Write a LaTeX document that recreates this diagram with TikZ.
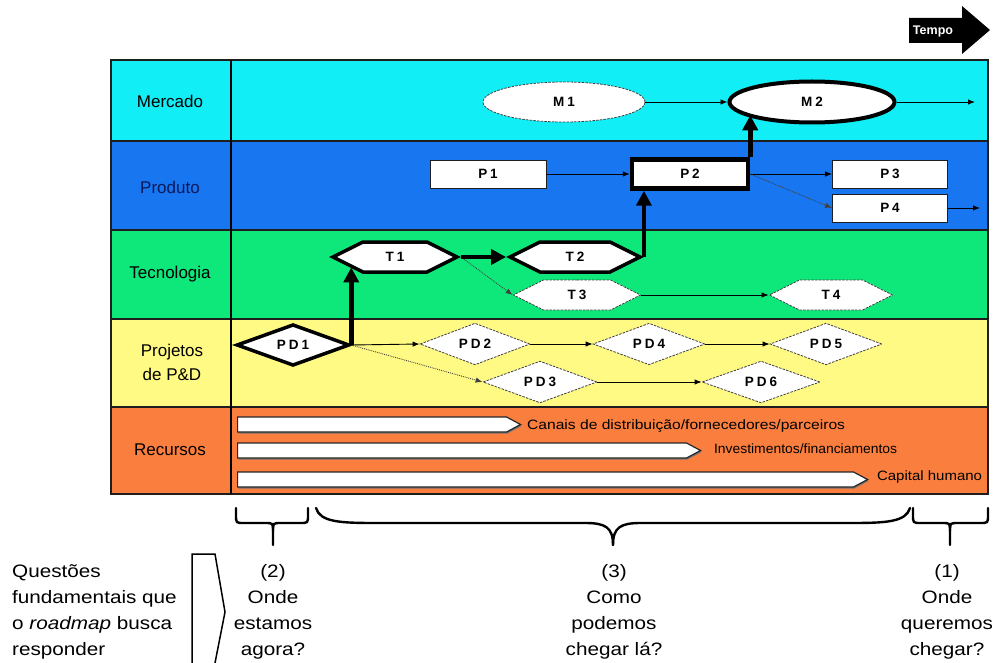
\documentclass[tikz,border=0pt]{standalone}
\usepackage{fontspec}
\usepackage{graphicx}
\setmainfont{Liberation Sans}
\newfontfamily\tagfont[LetterSpace=22]{Liberation Sans}
\newfontfamily\widefont[FakeStretch=1.15]{Liberation Sans}
\usetikzlibrary{shapes.geometric,shapes.symbols,arrows.meta,shadows,calc}

\definecolor{mercado}{RGB}{18,238,246}
\definecolor{produto}{RGB}{24,118,240}
\definecolor{tecno}{RGB}{14,232,122}
\definecolor{projeto}{RGB}{255,250,132}
\definecolor{recurso}{RGB}{250,126,62}
\definecolor{navy}{RGB}{10,25,90}
\definecolor{gridline}{RGB}{30,30,30}

% stretch a text to a given width, keeping its height
\newcommand\fitto[2]{\resizebox{#1}{\height}{#2}}

\begin{document}
\begin{tikzpicture}[x=1pt,y=-1pt,
  lane/.style={font=\fontsize{17}{24}\selectfont, inner sep=0},
  evt/.style={draw=black!75, line width=0.8pt, dash pattern=on 2.5pt off 1.2pt,
    fill=white, font=\tagfont\bfseries\fontsize{13.5}{14}\selectfont, inner sep=0},
  plainevt/.style={evt, solid, draw=gridline},
  keyevt/.style={draw=black, line width=4pt, fill=white,
    font=\tagfont\bfseries\fontsize{13.5}{14}\selectfont, inner sep=0},
  mkt/.style={ellipse},
  prod/.style={rectangle},
  tech/.style={signal, signal to=east and west, signal pointer angle=53.13},
  proj/.style={diamond},
  link/.style={-{Latex[length=7pt,width=5.5pt]}, line width=0.9pt},
  weak link/.style={link, densely dotted, draw=black!75},
  main link/.style={-{Triangle[length=15pt,width=15pt]}, line width=4.5pt},
  resbar/.style={signal, signal to=east, signal pointer angle=56,
    fill=white, draw=black!85, line width=1.2pt, minimum height=15, inner sep=0,
    drop shadow={shadow xshift=1pt, shadow yshift=-1.5pt, fill=black!55, opacity=1}},
  restext/.style={font=\fontsize{13.5}{14}\selectfont, inner sep=0, anchor=west},
  qtext/.style={font=\widefont\fontsize{18}{26}\selectfont, inner sep=0},
  brace line/.style={line width=2.4pt, line cap=round, line join=round}
]
\useasboundingbox (0,0) rectangle (1001,663);
\fill[white] (0,0) rectangle (1001,663);

% lanes of the roadmap
\fill[mercado] (111,60) rectangle (988,141);
\fill[produto] (111,141) rectangle (988,230);
\fill[tecno] (111,230) rectangle (988,319);
\fill[projeto] (111,319) rectangle (988,407);
\fill[recurso] (111,407) rectangle (988,494);
\foreach \y in {141,230,319,407}
  \draw[gridline, line width=1.5pt] (111,\y) -- (988,\y);
\draw[gridline, line width=1.5pt] (111,60) rectangle (988,494);
\draw[black, line width=1.8pt] (231,60) -- (231,494);

% lane titles
\node[lane] (lm) at (170,101) {Mercado};
\node[lane, text=navy] (lp) at (170,187) {Produto};
\node[lane] (lt) at (170,274) {Tecnologia};
\node[lane, align=center] (lpd) at (172,362) {Projetos\\de P\&D};
\node[lane] (lrs) at (170,450) {Recursos};

% time arrow
\fill[black] (909,18) -- (962,18) -- (962,6) -- (990,30) -- (962,54) -- (962,43) -- (909,43) -- cycle;
\node[font=\bfseries\fontsize{12.5}{13}\selectfont, text=white, inner sep=0] (tempo) at (933,31) {Tempo};

% market
\node[evt, mkt, minimum width=162, minimum height=40] (M1) at (564,102) {M1};
\node[keyevt, mkt, minimum width=165, minimum height=41] (M2) at (812,102) {M2};
\coordinate (mout) at (975,102);

% product
\node[plainevt, prod, minimum width=116, minimum height=28] (P1) at (488,174) {P1};
\node[keyevt, prod, line width=4.5pt, minimum width=116, minimum height=29] (P2) at (690,174) {P2};
\node[plainevt, prod, minimum width=115, minimum height=28] (P3) at (890,174) {P3};
\node[plainevt, prod, minimum width=115, minimum height=28] (P4) at (890,208) {P4};
\coordinate (pout) at (980,208);

% technology
\node[keyevt, tech, line width=3.5pt, minimum width=124, minimum height=30] (T1) at (395,257) {T1};
\node[keyevt, tech, line width=3.5pt, minimum width=130, minimum height=30] (T2) at (575,257) {T2};
\node[evt, tech, minimum width=127, minimum height=30] (T3) at (577,295) {T3};
\node[evt, tech, minimum width=123, minimum height=30] (T4) at (831,295) {T4};

% R&D projects
\node[keyevt, proj, line width=3.5pt, minimum width=113, minimum height=36] (PD1) at (293,345) {PD1};
\node[evt, proj, minimum width=110, minimum height=32] (PD2) at (475,344) {PD2};
\node[evt, proj, minimum width=114, minimum height=30] (PD3) at (540,382) {PD3};
\node[evt, proj, minimum width=112, minimum height=32] (PD4) at (649,344) {PD4};
\node[evt, proj, minimum width=112, minimum height=32] (PD5) at (826,344) {PD5};
\node[evt, proj, minimum width=118, minimum height=30] (PD6) at (761,382) {PD6};

% resources
\node[resbar, minimum width=283, anchor=west] (R1) at (237,424.5) {};
\node[resbar, minimum width=463, anchor=west] (R2) at (237,450.5) {};
\node[resbar, minimum width=630, anchor=west] (R3) at (237,479.5) {};
\node[restext] (R1t) at ([xshift=5pt,yshift=-2pt]R1.east) {\fitto{318pt}{Canais de distribuição/fornecedores/parceiros}};
\node[restext] (R2t) at ([xshift=12pt,yshift=2pt]R2.east) {\fitto{183pt}{Investimentos/financiamentos}};
\node[restext] (R3t) at ([xshift=8pt,yshift=2pt]R3.east) {\fitto{105pt}{Capital humano}};

% links
\draw[link] (M1.east) -- (M2.west);
\draw[link] (M2.east) -- (mout);
\draw[link] (P1.east) -- (P2.west);
\draw[link] (P2.east) -- (P3.west);
\draw[weak link] (P2.east) -- (P4.west);
\draw[link] (P4.east) -- (pout);
\draw[link] (T3.east) -- (T4.west);
\draw[weak link] (T1.east) -- (T3.west);
\draw[link] (PD1.east) -- (PD2.west);
\draw[weak link] (PD1.east) -- (PD3.west);
\draw[link] (PD2.east) -- (PD4.west);
\draw[link] (PD4.east) -- (PD5.west);
\draw[link] (PD3.east) -- (PD6.west);

% critical path
\draw[main link] (PD1.east) -- (PD1.east |- T1.193);
\draw[main link] (T1.east) -- (T2.west);
\draw[main link] (T2.east) -- (T2.east |- P2.south);
\draw[main link] (P2.north east) -- (P2.north east |- M2.191.5);

% braces
\draw[brace line] (236,508) -- (236,515) .. controls (236,523) .. (244,523) -- (265,523)
  .. controls (273,523) .. (273,531) -- (273,545);
\draw[brace line] (273,531) .. controls (273,523) .. (281,523) -- (300,523)
  .. controls (308,523) .. (308,515) -- (308,508);
\draw[brace line] (316,508) .. controls (320,522) and (340,523) .. (375,523) -- (585,523)
  .. controls (605,523) and (613,527) .. (613,545);
\draw[brace line] (613,545) .. controls (613,527) and (621,523) .. (641,523) -- (851,523)
  .. controls (886,523) and (906,522) .. (910,508);
\draw[brace line] (913,508) -- (913,515) .. controls (913,523) .. (921,523) -- (942,523)
  .. controls (950,523) .. (950,531) -- (950,545);
\draw[brace line] (950,531) .. controls (950,523) .. (958,523) -- (980,523)
  .. controls (988,523) .. (988,515) -- (988,508);

% questions
\node[qtext, anchor=west, align=left] (q) at (12,612) {Questões\\fundamentais que\\o \textit{roadmap} busca\\responder};
\draw[line width=1.5pt, line join=miter] (192,663) -- (192,554) -- (215,554) -- (225,612) -- (215,663);
\node[qtext, align=center] (a2) at (273,612) {(2)\\Onde\\estamos\\agora?};
\node[qtext, align=center] (a3) at (614,612) {(3)\\Como\\podemos\\chegar lá?};
\node[qtext, align=center] (a1) at (947,612) {(1)\\Onde\\queremos\\chegar?};
\end{tikzpicture}
\end{document}
